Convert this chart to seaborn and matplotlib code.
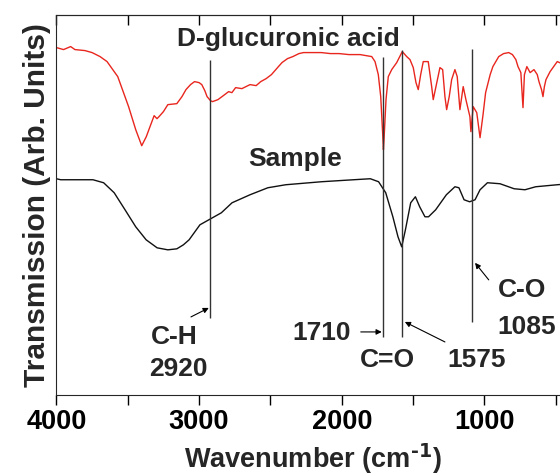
import matplotlib
matplotlib.use('Agg')
import matplotlib.pyplot as plt
import seaborn as sns
import numpy as np
import pandas as pd

# FTIR spectra, transmission in arbitrary units
ref_wn = [4000, 3950, 3900, 3870, 3800, 3750, 3694, 3645, 3570, 3494, 3444, 3402, 3370, 3344,
          3315, 3295, 3281, 3250, 3219, 3156, 3120, 3092, 3060, 3032, 3000, 2981, 2960, 2944,
          2920, 2906, 2868, 2830, 2793, 2770, 2744, 2700, 2643, 2600, 2568, 2530, 2493, 2450,
          2419, 2380, 2343, 2300, 2268, 2200, 2143, 2080, 2019, 1950, 1893, 1872, 1790, 1767,
          1744, 1727, 1713, 1708, 1704, 1690, 1674, 1650, 1615, 1576, 1545, 1522, 1499, 1480,
          1464, 1447, 1429, 1394, 1370, 1359, 1340, 1312, 1293, 1277, 1265, 1247, 1230, 1207,
          1191, 1172, 1149, 1130, 1102, 1095, 1079, 1054, 1031, 1010, 992, 960, 941, 900, 866,
          830, 804, 780, 765, 745, 730, 720, 703, 680, 653, 630, 618, 600, 590, 580, 569, 540,
          490, 440, 400]
ref_t = [347, 345, 348, 345, 344, 342, 338, 333, 318, 288, 265, 249, 258, 268,
         279, 276, 278, 283, 290, 291, 298, 305, 310, 313, 312, 310, 304, 298,
         294, 293, 295, 299, 303, 302, 307, 306, 310, 309, 313, 316, 320, 327,
         332, 336, 338, 341, 342, 342, 342, 341, 341, 340, 340, 340, 338, 333,
         320, 298, 260, 245, 255, 295, 318, 325, 332, 343, 338, 335, 327, 312,
         305, 320, 333, 333, 308, 295, 308, 327, 325, 298, 285, 298, 315, 325,
         318, 285, 308, 295, 278, 263, 288, 282, 257, 280, 302, 320, 328, 338, 341,
         342, 340, 335, 328, 322, 287, 320, 328, 322, 325, 320, 313, 305, 298, 308, 315, 323,
         333, 330, 335]

smp_wn = [4000, 3970, 3850, 3744, 3669, 3595, 3519, 3444, 3371, 3294, 3219, 3156, 3110, 3070,
          2994, 2919, 2844, 2769, 2643, 2518, 2393, 2143, 1917, 1800, 1742, 1692, 1642, 1606,
          1580, 1554, 1517, 1484, 1454, 1417, 1392, 1342, 1267, 1207, 1179, 1143, 1104, 1066,
          1031, 979, 891, 792, 716, 641, 490, 400]
smp_t = [216, 215, 215, 215, 212, 202, 185, 168, 155, 147, 145, 146, 150, 155,
         170, 176, 182, 192, 200, 207, 210, 213, 215, 216, 213, 202, 178, 158,
         148, 165, 192, 198, 188, 178, 178, 185, 200, 208, 207, 195, 193, 195,
         205, 212, 211, 206, 205, 208, 210, 211]

# marker lines: wavenumber, bottom, top
peak_wn = [2920, 1710, 1575, 1085]
peak_lo = [77, 58, 58, 73]
peak_hi = [335, 338, 345, 346]

xticks_all = [4000, 3500, 3000, 2500, 2000, 1500, 1000, 500]

df = pd.concat([
    pd.DataFrame({'wn': ref_wn, 't': ref_t, 'name': 'D-glucuronic acid'}),
    pd.DataFrame({'wn': smp_wn, 't': smp_t, 'name': 'Sample'}),
])

sns.set_style('ticks')
plt.rcParams['font.family'] = ['Liberation Sans', 'DejaVu Sans']
plt.rcParams['font.weight'] = 'bold'
plt.rcParams['mathtext.default'] = 'regular'
plt.rcParams['xtick.major.size'] = 7
plt.rcParams['xtick.major.width'] = 1.0
plt.rcParams['xtick.color'] = 'black'

fig = plt.figure(figsize=(5.6, 4.75), dpi=100)
ax = fig.add_axes([0.1007, 0.1684, 0.9173, 0.801])

sns.lineplot(data=df, x='wn', y='t', hue='name', estimator=None, sort=True,
             palette={'D-glucuronic acid': '#e8261e', 'Sample': '#111111'},
             linewidth=1.0, legend=False, ax=ax)

ax.vlines(peak_wn, peak_lo, peak_hi, color='#333333', linewidth=1.0)

ax.set_xlim(4000, 400)
ax.set_ylim(0, 380)
ax.set_xticks(xticks_all, ['4000', '', '3000', '', '2000', '', '1000', ''])
ax.set_yticks([])
ax.tick_params(axis='x', labelsize=19.5, pad=3)
for s in ['left', 'bottom', 'right', 'top']:
    ax.spines[s].set_linewidth(0.8)

# inward ticks along the top spine
top = ax.secondary_xaxis('top')
top.set_xticks(xticks_all, [''] * len(xticks_all))
top.tick_params(axis='x', direction='in')

ax.set_xlabel('Wavenumber (cm$^{\\text{-1}}$)', fontsize=19.5, fontweight='bold', labelpad=5)
ax.set_ylabel('Transmission (Arb. Units)', fontsize=21.5, fontweight='bold', labelpad=4)

fs = 19
ax.text(2377, 356, 'D-glucuronic acid', fontsize=fs, fontweight='bold', ha='center', va='center')
ax.text(2328, 236, 'Sample', fontsize=fs, fontweight='bold', ha='center', va='center')
ax.text(3176, 58, 'C-H', fontsize=fs, fontweight='bold', ha='center', va='center')
ax.text(3148, 26, '2920', fontsize=fs, fontweight='bold', ha='center', va='center')
ax.text(2139, 62, '1710', fontsize=fs, fontweight='bold', ha='center', va='center')
ax.text(1677, 35, 'C=O', fontsize=fs, fontweight='bold', ha='center', va='center')
ax.text(1053, 35, '1575', fontsize=fs, fontweight='bold', ha='center', va='center')
ax.text(738, 105, 'C-O', fontsize=fs, fontweight='bold', ha='center', va='center')
ax.text(703, 68, '1085', fontsize=fs, fontweight='bold', ha='center', va='center')

arw = dict(arrowstyle='-|>', color='black', lw=0.8, mutation_scale=8, shrinkA=0, shrinkB=0)
ax.annotate('', xy=(2932, 87), xytext=(3057, 78), arrowprops=arw)
ax.annotate('', xy=(1720, 63), xytext=(1867, 63), arrowprops=arw)
ax.annotate('', xy=(1558, 73), xytext=(1277, 53), arrowprops=arw)
ax.annotate('', xy=(1066, 132), xytext=(970, 115), arrowprops=arw)

fig.savefig('out.png', dpi=100)
